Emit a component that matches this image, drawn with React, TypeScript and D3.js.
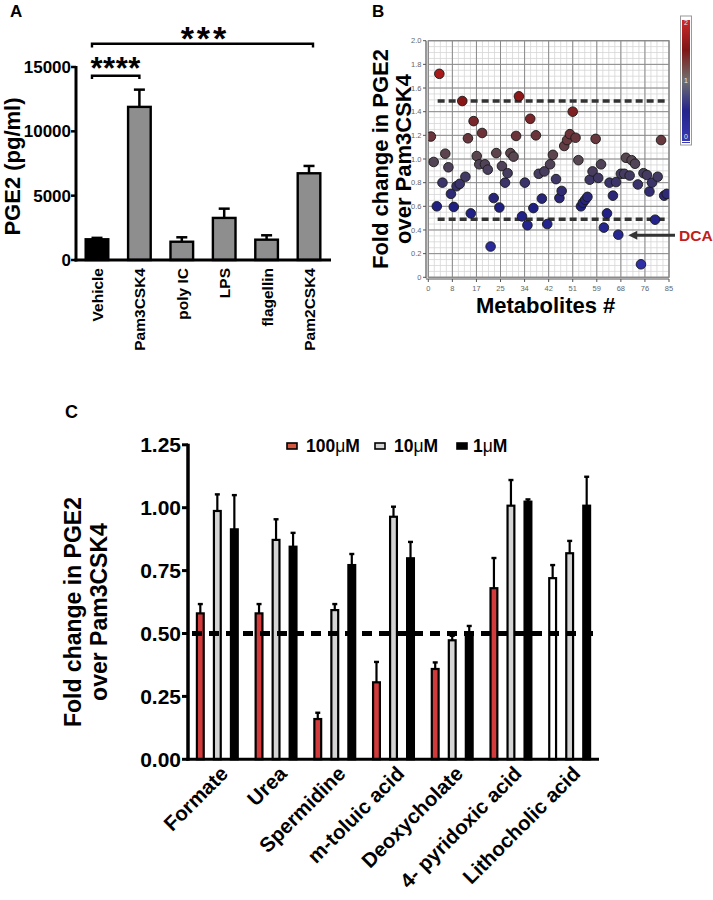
import React from "react";
import * as d3 from "d3";

const FONT = "'Liberation Sans', Arial, Helvetica, sans-serif";

// ---------- Panel A ----------
const stimuli = ["Vehicle", "Pam3CSK4", "poly IC", "LPS", "flagellin", "Pam2CSK4"];
const pge2Mean = [1610, 11900, 1420, 3270, 1580, 6740];
const pge2Err = [110, 1340, 345, 720, 340, 570];
const pge2Ticks = [0, 5000, 10000, 15000];

// ---------- Panel B ----------
const metaboliteIndex = [
  0.9, 1.9, 3.0, 3.9, 5.0, 6.0, 7.1, 8.0, 9.0, 10.0, 11.1, 12.0, 13.1, 14.0, 15.0, 16.0,
  17.1, 18.0, 19.0, 20.0, 21.0, 22.0, 23.1, 24.0, 25.1, 26.0, 27.1, 28.0, 29.0, 30.1,
  31.0, 32.0, 33.1, 34.1, 35.0, 36.0, 37.1, 38.0, 39.0, 40.1, 41.0, 42.0, 43.0, 44.0,
  45.1, 46.3, 47.1, 48.0, 49.0, 50.0, 51.0, 52.0, 53.0, 53.9, 54.6, 55.4, 56.2, 57.0,
  58.0, 59.1, 60.0, 61.0, 62.0, 63.1, 64.0, 65.2, 66.3, 67.1, 68.0, 69.2, 69.8, 71.1,
  71.8, 73.0, 74.0, 75.1, 76.0, 77.2, 78.1, 79.0, 80.1, 81.0, 82.2, 83.3, 84.2,
];
const metaboliteFold = [
  1.19, 0.975, 0.6, 1.72, 0.8, 1.045, 0.93, 0.705, 0.595, 0.77, 0.79, 1.49, 0.85, 1.175, 0.54, 1.32,
  1.025, 0.955, 1.22, 0.955, 0.91, 0.26, 0.67, 1.05, 0.59, 0.94, 0.8, 0.88, 1.05, 1.02,
  1.195, 1.53, 0.515, 0.8, 0.44, 1.34, 0.585, 1.2, 0.875, 0.665, 0.895, 0.45, 0.955, 1.035,
  0.83, 0.67, 0.73, 1.11, 1.16, 1.21, 1.4, 1.18, 0.99, 0.6, 0.63, 0.655, 0.68, 0.825,
  0.895, 1.17, 0.84, 0.955, 0.42, 0.54, 0.8, 0.69, 0.805, 0.36, 0.875, 0.875, 1.01, 0.86,
  0.99, 0.96, 0.785, 0.11, 0.88, 0.865, 0.725, 0.8, 0.487, 0.85, 1.16, 0.69, 0.705,
];
const bXTickValues = [0, 8.5, 17, 25.5, 34, 42.5, 51, 59.5, 68, 76.5, 85];
const bXTickLabels = ["0", "8", "17", "25", "34", "42", "51", "59", "68", "76", "85"];
const bYTickValues = [0, 0.2, 0.4, 0.6, 0.8, 1.0, 1.2, 1.4, 1.6, 1.8, 2.0];
const bYTickLabels = ["0", "0.2", "0.4", "0.6", "0.8", "1.0", "1.2", "1.4", "1.6", "1.8", "2.0"];
const bThresholds = [1.49, 0.49];
const dcaIndex = 67.1;
const dcaFold = 0.36;
const colorbarLabels = ["2", "1", "0"];
const colorbarValues = [2, 1, 0];

// ---------- Panel C ----------
const metabolitesC = ["Formate", "Urea", "Spermidine", "m-toluic acid", "Deoxycholate", "4- pyridoxic acid", "Lithocholic acid"];
const concentrations = ["100", "10", "1"];
const mean100 = [0.58, 0.58, 0.16, 0.306, 0.359, 0.68, 0.72];
const err100 = [0.037, 0.037, 0.025, 0.081, 0.026, 0.12, 0.052];
const mean10 = [0.987, 0.872, 0.593, 0.964, 0.473, 1.008, 0.819];
const err10 = [0.066, 0.082, 0.024, 0.04, 0.018, 0.102, 0.049];
const mean1 = [0.914, 0.845, 0.772, 0.799, 0.505, 1.024, 1.008];
const err1 = [0.136, 0.055, 0.044, 0.065, 0.025, 0.009, 0.115];
const cTicks = [0, 0.25, 0.5, 0.75, 1.0, 1.25];
const cThreshold = 0.5;
const unfilled100 = ["Lithocholic acid"];

export default function App() {
  React.useEffect(() => {
    document.body.style.margin = "0";
  }, []);

  // ----- A scales -----
  const ax = d3.scaleBand<string>().domain(stimuli).range([76, 330]).paddingInner(0.41).paddingOuter(0.2);
  const ay = d3.scaleLinear().domain([0, 15000]).range([260, 67]);

  // ----- B scales -----
  const bx = d3.scaleLinear().domain([0, 85]).range([428.3, 669]);
  const by = d3.scaleLinear().domain([0, 2]).range([277.3, 40.7]);
  const pointColor = d3
    .scaleLinear<string>()
    .domain([0, 0.6, 1.0, 1.5, 2.0])
    .range(["#3232b0", "#1f1f82", "#574852", "#8a1515", "#d02222"])
    .clamp(true);
  const barColor = d3
    .scaleLinear<string>()
    .domain([0, 0.5, 1.0, 1.5, 2.0])
    .range(["#3838b0", "#24248c", "#707070", "#7e1616", "#cc2a2a"]);
  const cbY = d3.scaleLinear().domain([0, 2]).range([141, 20]);
  const minorX = d3.range(0, 85.0001, 2.125);
  const minorY = d3.range(0, 2.0001, 0.05);

  // ----- C scales -----
  const cx0 = d3.scaleBand<string>().domain(metabolitesC).range([188, 599]).paddingInner(0.267).paddingOuter(0.133);
  const cx1 = d3.scaleBand<string>().domain(concentrations).range([0, cx0.bandwidth()]).paddingInner(0.47).paddingOuter(0);
  const cy = d3.scaleLinear().domain([0, 1.25]).range([759.3, 444.8]);
  const seriesMeans = [mean100, mean10, mean1];
  const seriesErrs = [err100, err10, err1];
  const seriesFill = ["#d23b3b", "#d4d4d4", "#000000"];

  const fmtC = d3.format(".2f");

  return (
    <div style={{ position: "absolute", left: 0, top: 0 }}>
      <svg width={713} height={900} style={{ display: "block", background: "#fff", fontFamily: FONT }}>
        <defs>
          <linearGradient id="cbar" x1="0" y1="1" x2="0" y2="0">
            {d3.range(0, 2.0001, 0.25).map((v) => (
              <stop key={v} offset={`${(v / 2) * 100}%`} stopColor={barColor(v)} />
            ))}
          </linearGradient>
          <clipPath id="bclip">
            <rect x={bx(0)} y={by(2)} width={bx(85) - bx(0)} height={by(0) - by(2)} />
          </clipPath>
        </defs>

        {/* ================= Panel A ================= */}
        <text x={10} y={17} fontSize={17} fontWeight="bold">A</text>
        <text
          transform={`translate(20,${(ay(0) + ay(15000)) / 2 + 3}) rotate(-90)`}
          textAnchor="middle"
          fontSize={22}
          fontWeight="bold"
        >
          PGE2 (pg/ml)
        </text>
        {pge2Ticks.map((t) => (
          <g key={t}>
            <line x1={71} x2={76} y1={ay(t)} y2={ay(t)} stroke="#000" strokeWidth={2.5} />
            <text x={71} y={ay(t)} dy="0.36em" textAnchor="end" fontSize={17} fontWeight="bold">
              {t}
            </text>
          </g>
        ))}
        {stimuli.map((s, i) => {
          const x = ax(s)!;
          const w = ax.bandwidth();
          const c = x + w / 2;
          return (
            <g key={s}>
              <line x1={c} x2={c} y1={ay(pge2Mean[i])} y2={ay(pge2Mean[i] + pge2Err[i])} stroke="#000" strokeWidth={2.5} />
              <line x1={c - 5.5} x2={c + 5.5} y1={ay(pge2Mean[i] + pge2Err[i])} y2={ay(pge2Mean[i] + pge2Err[i])} stroke="#000" strokeWidth={2.5} />
              <rect
                x={x + 1.2}
                y={ay(pge2Mean[i])}
                width={w - 2.4}
                height={ay(0) - ay(pge2Mean[i])}
                fill={i === 0 ? "#000" : "#8e8e8e"}
                stroke="#000"
                strokeWidth={2.4}
              />
              <text
                transform={`translate(${c + 6},268) rotate(-90)`}
                textAnchor="end"
                fontSize={15.5}
                fontWeight="bold"
              >
                {s}
              </text>
            </g>
          );
        })}
        <line x1={76} x2={76} y1={ay(15000) - 1} y2={ay(0) + 1.5} stroke="#000" strokeWidth={3} />
        <line x1={74.5} x2={331} y1={ay(0)} y2={ay(0)} stroke="#000" strokeWidth={3} />
        {/* significance brackets */}
        <path
          d={`M${ax(stimuli[0])! + 7.5},79 V75.7 H${ax(stimuli[1])! + ax.bandwidth() / 2} V79`}
          fill="none"
          stroke="#000"
          strokeWidth={2.4}
        />
        <text x={(ax(stimuli[0])! + 7.5 + ax(stimuli[1])! + ax.bandwidth() / 2) / 2} y={79} textAnchor="middle" fontSize={31} fontWeight="bold" letterSpacing={0.5}>
          ****
        </text>
        <path
          d={`M${ax(stimuli[0])! + 7.5},47.5 V43.7 H${ax(stimuli[5])! + ax.bandwidth() / 2 + 4} V47.5`}
          fill="none"
          stroke="#000"
          strokeWidth={2.4}
        />
        <text x={205} y={50} textAnchor="middle" fontSize={34} fontWeight="bold" letterSpacing={3}>
          ***
        </text>

        {/* ================= Panel B ================= */}
        <text x={372} y={17} fontSize={17} fontWeight="bold">B</text>
        <text
          transform={`translate(390,${(by(0) + by(2)) / 2}) rotate(-90)`}
          textAnchor="middle"
          fontSize={22}
          fontWeight="bold"
        >
          <tspan x={0} dy="-0.1em">Fold change in PGE2</tspan>
          <tspan x={0} dy="1.05em">over Pam3CSK4</tspan>
        </text>
        <text x={(bx(0) + bx(85)) / 2 - 3} y={313} textAnchor="middle" fontSize={22} fontWeight="bold">
          Metabolites #
        </text>
        <rect x={bx(0)} y={by(2)} width={bx(85) - bx(0)} height={by(0) - by(2)} fill="#fff" />
        {minorX.map((v) => (
          <line key={"mx" + v} x1={bx(v)} x2={bx(v)} y1={by(0)} y2={by(2)} stroke="#d6d6d6" strokeWidth={0.8} />
        ))}
        {minorY.map((v) => (
          <line key={"my" + v} x1={bx(0)} x2={bx(85)} y1={by(v)} y2={by(v)} stroke="#d6d6d6" strokeWidth={0.8} />
        ))}
        {bXTickValues.map((v) => (
          <line key={"Mx" + v} x1={bx(v)} x2={bx(v)} y1={by(0)} y2={by(2)} stroke="#8a8a8a" strokeWidth={1} />
        ))}
        {bYTickValues.map((v) => (
          <line key={"My" + v} x1={bx(0)} x2={bx(85)} y1={by(v)} y2={by(v)} stroke="#8a8a8a" strokeWidth={1} />
        ))}
        <rect x={bx(0)} y={by(2)} width={bx(85) - bx(0)} height={by(0) - by(2)} fill="none" stroke="#8a8a8a" strokeWidth={1.2} />
        {/* axes */}
        <line x1={426} x2={426} y1={by(2)} y2={by(0) + 1} stroke="#555" strokeWidth={1.2} />
        {bYTickValues.map((v, i) => (
          <g key={"yt" + v}>
            <line x1={423} x2={426} y1={by(v)} y2={by(v)} stroke="#555" strokeWidth={1} />
            <text x={421.5} y={by(v)} dy="0.35em" textAnchor="end" fontSize={7.5} fill="#666">
              {bYTickLabels[i]}
            </text>
          </g>
        ))}
        <line x1={426} x2={bx(85)} y1={279} y2={279} stroke="#555" strokeWidth={1.2} />
        {bXTickValues.map((v, i) => (
          <g key={"xt" + v}>
            <line x1={bx(v)} x2={bx(v)} y1={279} y2={282} stroke="#555" strokeWidth={1} />
            <text x={bx(v)} y={291} textAnchor="middle" fontSize={7.5} fill="#666">
              {bXTickLabels[i]}
            </text>
          </g>
        ))}
        {/* threshold dashes */}
        {bThresholds.map((t) => (
          <line
            key={"th" + t}
            x1={bx(3.3)}
            x2={bx(84.2)}
            y1={by(t)}
            y2={by(t)}
            stroke="#333"
            strokeWidth={3.5}
            strokeDasharray="7,4"
          />
        ))}
        {/* points */}
        <g clipPath="url(#bclip)">
          {metaboliteIndex.map((m, i) => (
            <circle
              key={"pt" + i}
              cx={bx(m)}
              cy={by(metaboliteFold[i])}
              r={4.8}
              fill={pointColor(metaboliteFold[i])}
              stroke="#1a1a1a"
              strokeWidth={0.9}
            />
          ))}
        </g>
        {/* colorbar */}
        <rect x={680.5} y={16} width={11} height={129} fill="#fff" stroke="#9a9a9a" strokeWidth={1} />
        <rect x={682} y={cbY(2)} width={8} height={cbY(0) - cbY(2)} fill="url(#cbar)" />
        <line x1={682} x2={690} y1={cbY(2) - 1} y2={cbY(2) - 1} stroke="#fff" strokeWidth={1} />
        <line x1={682} x2={690} y1={cbY(0) + 1.5} y2={cbY(0) + 1.5} stroke="#3a3ab0" strokeWidth={1} />
        {colorbarValues.map((v, i) => (
          <text key={"cb" + v} x={686} y={cbY(v) + (v === 2 ? 5 : v === 0 ? -2 : 2.5)} textAnchor="middle" fontSize={7} fill="#e8e8e8">
            {colorbarLabels[i]}
          </text>
        ))}
        {/* DCA annotation */}
        <line x1={675} x2={634} y1={by(dcaFold) + 0.5} y2={by(dcaFold) + 0.5} stroke="#333" strokeWidth={3} />
        <path
          d={`M${bx(dcaIndex) + 10},${by(dcaFold) + 0.5} l9,-4.5 v9 z`}
          fill="#333"
        />
        <text x={679} y={by(dcaFold) + 6} fontSize={15.5} fontWeight="bold" fill="#c0201a">
          DCA
        </text>

        {/* ================= Panel C ================= */}
        <text x={65} y={418} fontSize={18} fontWeight="bold">C</text>
        <text
          transform={`translate(81,${(cy(0) + cy(1.25)) / 2 + 10}) rotate(-90)`}
          textAnchor="middle"
          fontSize={23}
          fontWeight="bold"
        >
          <tspan x={0} dy="0">Fold change in PGE2</tspan>
          <tspan x={0} dy="1.15em">over Pam3CSK4</tspan>
        </text>
        {cTicks.map((t) => (
          <g key={"ct" + t}>
            <line x1={182} x2={188} y1={cy(t)} y2={cy(t)} stroke="#000" strokeWidth={3} />
            <text x={181} y={cy(t)} dy="0.36em" textAnchor="end" fontSize={21} fontWeight="bold">
              {fmtC(t)}
            </text>
          </g>
        ))}
        {metabolitesC.map((m, i) => {
          const gx = cx0(m)!;
          return (
            <g key={m}>
              {concentrations.map((c, j) => {
                const x = gx + cx1(c)!;
                const w = cx1.bandwidth();
                const mid = x + w / 2;
                const v = seriesMeans[j][i];
                const e = seriesErrs[j][i];
                const fill = j === 0 && unfilled100.includes(m) ? "#fff" : seriesFill[j];
                return (
                  <g key={c}>
                    <line x1={mid} x2={mid} y1={cy(v)} y2={cy(v + e)} stroke="#000" strokeWidth={2.2} />
                    <line x1={mid - 2.5} x2={mid + 2.5} y1={cy(v + e)} y2={cy(v + e)} stroke="#000" strokeWidth={2.4} />
                    <rect
                      x={x + 1.1}
                      y={cy(v)}
                      width={w - 2.2}
                      height={cy(0) - cy(v)}
                      fill={fill}
                      stroke="#000"
                      strokeWidth={2.2}
                    />
                  </g>
                );
              })}
              <text
                transform={`translate(${gx + cx0.bandwidth() / 2 + 12},775) rotate(-45)`}
                textAnchor="end"
                fontSize={20.5}
                fontWeight="bold"
              >
                {m}
              </text>
            </g>
          );
        })}
        <line
          x1={192}
          x2={596}
          y1={cy(cThreshold)}
          y2={cy(cThreshold)}
          stroke="#000"
          strokeWidth={5}
          strokeDasharray="10,7"
        />
        <line x1={188} x2={188} y1={cy(1.25) - 1} y2={cy(0) + 1.5} stroke="#000" strokeWidth={3.5} />
        <line x1={186.5} x2={599} y1={cy(0)} y2={cy(0)} stroke="#000" strokeWidth={3} />
        {/* legend */}
        {concentrations.map((c, j) => {
          const lx = [287, 375, 457][j];
          return (
            <g key={"lg" + c}>
              <rect x={lx} y={443} width={10} height={6} fill={j === 0 ? "#d4573f" : seriesFill[j]} stroke="#000" strokeWidth={1.6} />
              <text x={lx + (j === 2 ? 16 : 19)} y={452} fontSize={17.5} fontWeight="bold">
                {c}
                <tspan fontWeight="normal">μ</tspan>M
              </text>
            </g>
          );
        })}
      </svg>
    </div>
  );
}
